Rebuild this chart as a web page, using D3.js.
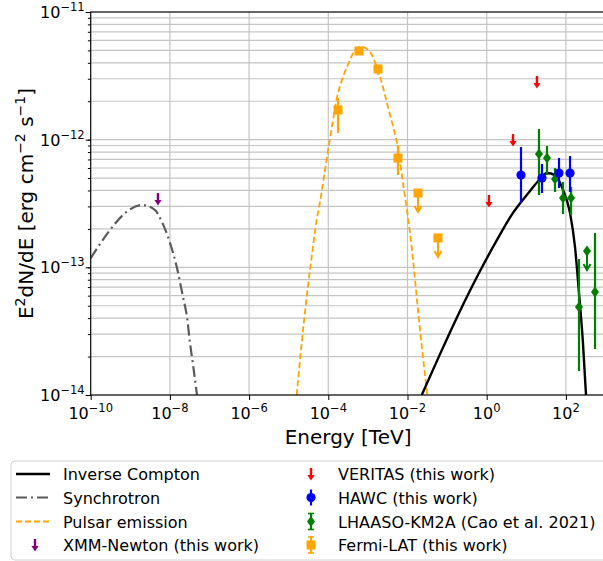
<!DOCTYPE html>
<html>
<head>
<meta charset="utf-8">
<script src="https://d3js.org/d3.v7.min.js"></script>
<style>
  body { margin: 0; background: white; }
  svg text { font-family: "DejaVu Sans", sans-serif; fill: #000; }
</style>
</head>
<body>
<svg id="sed_chart" width="603" height="561"></svg>
<script>
// model curves, sampled off the figure
const icEnergy = [2.29e-2, 6.62e-2, 0.212, 0.678, 1.82, 4.61, 12.4, 22.2, 33.3, 53.1, 84.5, 127, 170, 214, 270, 322];
const icFlux = [1e-14, 2.09e-14, 4.55e-14, 9.35e-14, 1.64e-13, 2.67e-13, 3.96e-13, 4.92e-13, 5.48e-13, 5.28e-13, 4.04e-13, 2.67e-13, 1.44e-13, 6.30e-14, 2.55e-14, 1e-14];

const syncEnergy = [1e-10, 3.07e-10, 6.55e-10, 1.97e-9, 4.21e-9, 6.32e-9, 1.01e-8, 1.51e-8, 2.14e-8, 2.70e-8, 3.22e-8, 3.85e-8, 4.83e-8];
const syncFlux = [1.18e-13, 1.96e-13, 2.57e-13, 3.08e-13, 2.81e-13, 2.26e-13, 1.55e-13, 9.9e-14, 5.86e-14, 4.08e-14, 2.55e-14, 1.72e-14, 1e-14];

const psrEnergy = [1.59e-5, 2.13e-5, 2.85e-5, 3.81e-5, 5.09e-5, 6.17e-5, 9.27e-5, 1.32e-4, 1.76e-4, 2.96e-4, 5.31e-4, 7.52e-4, 1.13e-3, 2.02e-3, 3.21e-3, 5.43e-3, 7.69e-3, 1.16e-2, 1.55e-2, 2.07e-2, 3.16e-2];
const psrFlux = [1e-14, 2.55e-14, 5.86e-14, 1.21e-13, 2.35e-13, 3.25e-13, 7.31e-13, 1.43e-12, 2.32e-12, 3.71e-12, 5.22e-12, 5.32e-12, 4.86e-12, 3.10e-12, 1.80e-12, 9.42e-13, 4.58e-13, 1.86e-13, 7.96e-14, 3.23e-14, 1e-14];

// measurements
const veritasEnergy = [1.14, 4.61, 18.6];
const veritasUL = [3.31e-13, 9.93e-13, 2.83e-12];

const xmmEnergy = [5.0e-9];
const xmmUL = [3.43e-13];

const hawcEnergy = [7.35, 24.9, 67.0, 127];
const hawcFlux = [5.28e-13, 5.01e-13, 5.48e-13, 5.48e-13];
const hawcLo = [3.19e-13, 3.82e-13, 4.18e-13, 3.89e-13];
const hawcHi = [8.77e-13, 6.44e-13, 7.18e-13, 7.45e-13];

const lhaasoEnergy = [20.9, 33.3, 53.1, 84.5, 135, 214, 341, 543];
const lhaasoFlux = [7.73e-13, 7.18e-13, 4.92e-13, 3.49e-13, 3.49e-13, 4.89e-14, 1.34e-13, 6.41e-14];
const lhaasoLo = [3.69e-13, 5.28e-13, 3.89e-13, 2.62e-13, 2.57e-13, 1.54e-14, null, 2.29e-14];
const lhaasoHi = [1.21e-12, 8.91e-13, 6.0e-13, 4.66e-13, 4.26e-13, 1.16e-13, null, 1.86e-13];
const lhaasoIsUL = [0, 0, 0, 0, 0, 0, 1, 0];

const fermiEnergy = [1.76e-4, 5.96e-4, 1.80e-3, 5.75e-3, 1.84e-2, 5.89e-2];
const fermiFlux = [1.71e-12, 4.95e-12, 3.58e-12, 7.18e-13, 3.82e-13, 1.70e-13];
const fermiLo = [1.13e-12, 4.69e-12, 3.21e-12, 5.28e-13, null, null];
const fermiHi = [2.12e-12, 5.22e-12, 3.85e-12, 9.08e-13, null, null];
const fermiIsUL = [0, 0, 0, 0, 1, 1];

const xTicks = [-10, -8, -6, -4, -2, 0, 2];
const yTicks = [-14, -13, -12, -11];

const legendLeft = ["Inverse Compton", "Synchrotron", "Pulsar emission", "XMM-Newton (this work)"];
const legendRight = ["VERITAS (this work)", "HAWC (this work)", "LHAASO-KM2A (Cao et al. 2021)", "Fermi-LAT (this work)"];

var margin = {top: 12, left: 90.7, bottom: 395, right: 605.5};

var svg = d3.select("#sed_chart");

var x = d3.scaleLog().domain([1e-10, 1e3]).range([margin.left, margin.right]);
var y = d3.scaleLog().domain([1e-14, 1e-11]).range([margin.bottom, margin.top]);

const GRID = "#c4c4c4";

svg.append("clipPath").attr("id", "plotclip")
  .append("rect")
  .attr("x", margin.left).attr("y", margin.top)
  .attr("width", margin.right - margin.left)
  .attr("height", margin.bottom - margin.top);

// grid: horizontal at major + minor, vertical at labelled decades only
var yMinor = [];
for (let e = -14; e < -11; e++) {
  for (let m = 1; m <= 9; m++) yMinor.push(m * Math.pow(10, e));
}
yMinor.push(1e-11);

svg.append("g").selectAll("line")
  .data(yMinor)
  .enter().append("line")
  .attr("x1", margin.left).attr("x2", margin.right)
  .attr("y1", d => y(d)).attr("y2", d => y(d))
  .style("stroke", GRID).style("stroke-width", 1.2);

svg.append("g").selectAll("line")
  .data(xTicks)
  .enter().append("line")
  .attr("x1", d => x(Math.pow(10, d))).attr("x2", d => x(Math.pow(10, d)))
  .attr("y1", margin.top).attr("y2", margin.bottom)
  .style("stroke", GRID).style("stroke-width", 1.2);

// axes (ticks only, labels built by hand for the superscripts)
var xAxis = d3.axisBottom(x)
  .tickValues(xTicks.map(d => Math.pow(10, d)))
  .tickFormat("").tickSizeInner(5).tickSizeOuter(0);
svg.append("g").attr("transform", "translate(0," + margin.bottom + ")").call(xAxis)
  .call(g => g.select(".domain").remove());

var yAxisMinor = d3.axisLeft(y).tickValues(yMinor).tickFormat("").tickSizeInner(2.8).tickSizeOuter(0);
svg.append("g").attr("transform", "translate(" + margin.left + ",0)").call(yAxisMinor)
  .call(g => g.select(".domain").remove());
var yAxis = d3.axisLeft(y).tickValues(yTicks.map(d => Math.pow(10, d))).tickFormat("").tickSizeInner(5).tickSizeOuter(0);
svg.append("g").attr("transform", "translate(" + margin.left + ",0)").call(yAxis)
  .call(g => g.select(".domain").remove());

svg.selectAll(".tick line").style("stroke", "#000").style("stroke-width", 1);

function powLabel(sel, exp) {
  sel.append("tspan").text("10");
  sel.append("tspan").attr("dy", -7).style("font-size", "11.5px")
    .text(exp < 0 ? "\u2212" + Math.abs(exp) : String(exp));
}

svg.append("g").selectAll("text")
  .data(xTicks)
  .enter().append("text")
  .attr("x", d => x(Math.pow(10, d)))
  .attr("y", 419)
  .attr("text-anchor", "middle")
  .style("font-size", "16px")
  .each(function(d) { powLabel(d3.select(this), d); });

svg.append("g").selectAll("text")
  .data(yTicks)
  .enter().append("text")
  .attr("x", margin.left - 6)
  .attr("y", d => y(Math.pow(10, d)) + 6)
  .attr("text-anchor", "end")
  .style("font-size", "16px")
  .each(function(d) { powLabel(d3.select(this), d); });

// axis titles
svg.append("text")
  .attr("x", (margin.left + margin.right) / 2).attr("y", 444)
  .attr("text-anchor", "middle").style("font-size", "20px")
  .text("Energy [TeV]");

var ylab = svg.append("text")
  .attr("transform", "translate(33," + ((margin.top + margin.bottom) / 2) + ") rotate(-90)")
  .attr("text-anchor", "middle").style("font-size", "20px");
ylab.append("tspan").text("E");
ylab.append("tspan").attr("dy", -8).style("font-size", "14px").text("2");
ylab.append("tspan").attr("dy", 8).text("dN/dE [erg cm");
ylab.append("tspan").attr("dy", -8).style("font-size", "14px").text("\u22122");
ylab.append("tspan").attr("dy", 8).text(" s");
ylab.append("tspan").attr("dy", -8).style("font-size", "14px").text("\u22121");
ylab.append("tspan").attr("dy", 8).text("]");

// model curves
var plot = svg.append("g").attr("clip-path", "url(#plotclip)");
var line = d3.line().x(d => x(d[0])).y(d => y(d[1])).curve(d3.curveMonotoneX);

plot.append("path")
  .datum(d3.zip(syncEnergy, syncFlux))
  .attr("d", line)
  .style("fill", "none").style("stroke", "#5a5a5a").style("stroke-width", 2.2)
  .style("stroke-dasharray", "11,4,2,4");

plot.append("path")
  .datum(d3.zip(psrEnergy, psrFlux))
  .attr("d", d3.line().x(d => x(d[0])).y(d => y(d[1])).curve(d3.curveCatmullRom))
  .style("fill", "none").style("stroke", "orange").style("stroke-width", 1.8)
  .style("stroke-dasharray", "6,3");

plot.append("path")
  .datum(d3.zip(icEnergy, icFlux))
  .attr("d", line)
  .style("fill", "none").style("stroke", "#000").style("stroke-width", 2.4);

// marker helpers
function arrowGlyph(g, cx, cy, color) {
  g.append("rect").attr("x", cx - 1.2).attr("y", cy - 6).attr("width", 2.4).attr("height", 8)
    .style("fill", color);
  g.append("path")
    .attr("d", "M" + (cx - 3.6) + "," + (cy + 1) + "L" + (cx + 3.6) + "," + (cy + 1) + "L" + cx + "," + (cy + 6.5) + "Z")
    .style("fill", color);
}

function ulBar(g, cx, cy, color) {
  g.append("line").attr("x1", cx).attr("x2", cx).attr("y1", cy).attr("y2", cy + 17)
    .style("stroke", color).style("stroke-width", 2);
  g.append("path")
    .attr("d", "M" + (cx - 3.5) + "," + (cy + 13) + "L" + cx + "," + (cy + 19) + "L" + (cx + 3.5) + "," + (cy + 13))
    .style("fill", "none").style("stroke", color).style("stroke-width", 2);
}

function errBar(g, cx, y1, y2, color) {
  g.append("line").attr("x1", cx).attr("x2", cx).attr("y1", y1).attr("y2", y2)
    .style("stroke", color).style("stroke-width", 2.2);
}

var pts = svg.append("g").attr("clip-path", "url(#plotclip)");

// Fermi-LAT
fermiEnergy.forEach(function(e, i) {
  var cx = x(e), cy = y(fermiFlux[i]);
  if (fermiIsUL[i]) ulBar(pts, cx, cy, "orange");
  else errBar(pts, cx, y(fermiHi[i]), y(fermiLo[i]), "orange");
  pts.append("rect").attr("x", cx - 4.5).attr("y", cy - 4.5).attr("width", 9).attr("height", 9)
    .style("fill", "orange");
});

// LHAASO
lhaasoEnergy.forEach(function(e, i) {
  var cx = x(e), cy = y(lhaasoFlux[i]);
  if (lhaasoIsUL[i]) ulBar(pts, cx, cy, "green");
  else errBar(pts, cx, y(lhaasoHi[i]), y(lhaasoLo[i]), "green");
  pts.append("path")
    .attr("d", "M" + cx + "," + (cy - 5.5) + "L" + (cx + 4) + "," + cy + "L" + cx + "," + (cy + 5.5) + "L" + (cx - 4) + "," + cy + "Z")
    .style("fill", "green");
});

// HAWC
hawcEnergy.forEach(function(e, i) {
  var cx = x(e), cy = y(hawcFlux[i]);
  errBar(pts, cx, y(hawcHi[i]), y(hawcLo[i]), "blue");
  pts.append("circle").attr("cx", cx).attr("cy", cy).attr("r", 4.6).style("fill", "blue");
});

veritasEnergy.forEach(function(e, i) { arrowGlyph(pts, x(e), y(veritasUL[i]), "red"); });
xmmEnergy.forEach(function(e, i) { arrowGlyph(pts, x(e), y(xmmUL[i]), "purple"); });

// spines
svg.append("rect")
  .attr("x", margin.left).attr("y", margin.top)
  .attr("width", margin.right - margin.left).attr("height", margin.bottom - margin.top)
  .style("fill", "none").style("stroke", "#000").style("stroke-width", 1.1);

// legend
var legend = svg.append("g");
legend.append("rect")
  .attr("x", 11).attr("y", 461).attr("width", 605).attr("height", 99).attr("rx", 4)
  .style("fill", "white").style("stroke", "#d0d0d0").style("stroke-width", 1);

var rowY = [474, 497.5, 521.5, 545];

legend.append("line").attr("x1", 16).attr("x2", 50).attr("y1", rowY[0]).attr("y2", rowY[0])
  .style("stroke", "#000").style("stroke-width", 2.4);
legend.append("line").attr("x1", 16).attr("x2", 50).attr("y1", rowY[1]).attr("y2", rowY[1])
  .style("stroke", "#5a5a5a").style("stroke-width", 2.2).style("stroke-dasharray", "11,4,2,4");
legend.append("line").attr("x1", 16).attr("x2", 50).attr("y1", rowY[2]).attr("y2", rowY[2])
  .style("stroke", "orange").style("stroke-width", 1.8).style("stroke-dasharray", "6,3");
arrowGlyph(legend, 35, rowY[3], "purple");

legend.selectAll(".ltxt")
  .data(legendLeft)
  .enter().append("text")
  .attr("x", 63).attr("y", (d, i) => rowY[i] + 6)
  .style("font-size", "16px")
  .text(d => d);

var lx = 311;
arrowGlyph(legend, lx, rowY[0], "red");
errBar(legend, lx, rowY[1] - 8, rowY[1] + 8, "blue");
legend.append("circle").attr("cx", lx).attr("cy", rowY[1]).attr("r", 4.6).style("fill", "blue");

function capBar(g, cx, cy, color) {
  errBar(g, cx, cy - 8, cy + 8, color);
  [cy - 8, cy + 8].forEach(function(cc) {
    g.append("line").attr("x1", cx - 3).attr("x2", cx + 3).attr("y1", cc).attr("y2", cc)
      .style("stroke", color).style("stroke-width", 1.6);
  });
}
capBar(legend, lx, rowY[2], "green");
legend.append("path")
  .attr("d", "M" + lx + "," + (rowY[2] - 5.5) + "L" + (lx + 4) + "," + rowY[2] + "L" + lx + "," + (rowY[2] + 5.5) + "L" + (lx - 4) + "," + rowY[2] + "Z")
  .style("fill", "green");
capBar(legend, lx, rowY[3], "orange");
legend.append("rect").attr("x", lx - 4.5).attr("y", rowY[3] - 4.5).attr("width", 9).attr("height", 9)
  .style("fill", "orange");

legend.selectAll(".rtxt")
  .data(legendRight)
  .enter().append("text")
  .attr("x", 338).attr("y", (d, i) => rowY[i] + 6)
  .style("font-size", "16px")
  .text(d => d);
</script>
</body>
</html>
